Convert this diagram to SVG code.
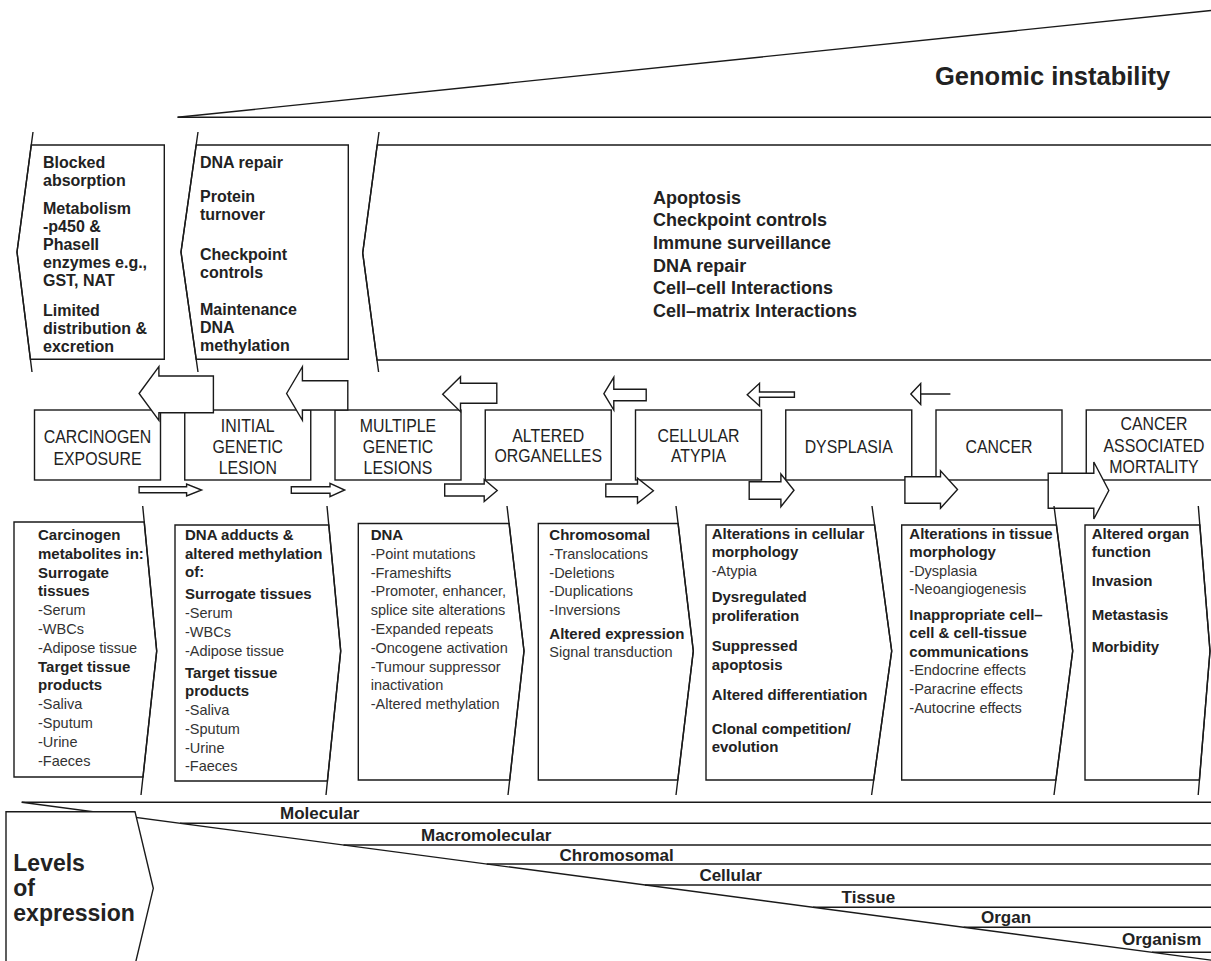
<svg xmlns="http://www.w3.org/2000/svg" width="1211" height="961" viewBox="0 0 1211 961">
<style>
.ln{fill:none;stroke:#1a1a1a;stroke-width:1.4}
.bx{fill:#fff;stroke:#1a1a1a;stroke-width:1.4}
.ar{fill:#fff;stroke:#1a1a1a;stroke-width:1.4;stroke-linejoin:miter}
text{font-family:"Liberation Sans",Arial,sans-serif;fill:#222}
.b{font-weight:bold}
.lab{font-size:19px;text-anchor:middle}
.tl{font-size:16px;font-weight:bold}
.big{font-size:18px;font-weight:bold}
.bb{font-size:15px;font-weight:bold}
.br{font-size:14.5px;fill:#333}
.lv{font-size:17px;font-weight:bold}
</style>
<rect width="1211" height="961" fill="#fff"/>

<g id="genomic-instability">
<line class="ln" x1="177.6" y1="117.3" x2="1211" y2="10.5"/>
<line class="ln" x1="177.6" y1="117.3" x2="1211" y2="117.3"/>
<text class="b" x="935" y="85" font-size="25.5">Genomic instability</text>
</g>

<g id="protect-exposure">
<polygon class="bx" points="31.3,145 164.3,145 164.3,359.3 30.4,359.3 17,252"/>
<polyline class="ln" points="33,132 17,252 32,372"/>
<text class="tl" x="43" y="167.7">Blocked</text>
<text class="tl" x="43" y="185.7">absorption</text>
<text class="tl" x="43" y="214">Metabolism</text>
<text class="tl" x="43" y="232">-p450 &amp;</text>
<text class="tl" x="43" y="250">PhaseII</text>
<text class="tl" x="43" y="268">enzymes e.g.,</text>
<text class="tl" x="43" y="286">GST, NAT</text>
<text class="tl" x="43" y="315.7">Limited</text>
<text class="tl" x="43" y="333.7">distribution &amp;</text>
<text class="tl" x="43" y="351.7">excretion</text>
</g>

<g id="protect-initial">
<polygon class="bx" points="196.2,145 348.3,145 348.3,359.3 196.2,359.3 181,252"/>
<polyline class="ln" points="198,132 181,252 198,372"/>
<text class="tl" x="200" y="167.7">DNA repair</text>
<text class="tl" x="200" y="202.3">Protein</text>
<text class="tl" x="200" y="220.3">turnover</text>
<text class="tl" x="200" y="259.7">Checkpoint</text>
<text class="tl" x="200" y="277.7">controls</text>
<text class="tl" x="200" y="315.3">Maintenance</text>
<text class="tl" x="200" y="333.3">DNA</text>
<text class="tl" x="200" y="351.3">methylation</text>
</g>

<g id="protect-progression">
<polygon class="bx" points="377.2,145 1215,145 1215,360 377,360 362.7,253"/>
<polyline class="ln" points="379,132 362.7,253 378.6,372"/>
<text class="big" x="653" y="203.5">Apoptosis</text>
<text class="big" x="653" y="226.2">Checkpoint controls</text>
<text class="big" x="653" y="248.9">Immune surveillance</text>
<text class="big" x="653" y="271.6">DNA repair</text>
<text class="big" x="653" y="294.3">Cell–cell Interactions</text>
<text class="big" x="653" y="317">Cell–matrix Interactions</text>
</g>

<g id="stage-carcinogen-exposure">
<rect class="bx" x="34.5" y="410" width="126" height="70"/>
<g transform="translate(97.5,0) scale(0.835,1)"><text class="lab" x="0" y="443.4">CARCINOGEN</text><text class="lab" x="0" y="465">EXPOSURE</text></g>
</g>
<g id="stage-initial-lesion">
<rect class="bx" x="184.75" y="410" width="126" height="70"/>
<g transform="translate(247.75,0) scale(0.835,1)"><text class="lab" x="0" y="431.7">INITIAL</text><text class="lab" x="0" y="452.7">GENETIC</text><text class="lab" x="0" y="474.3">LESION</text></g>
</g>
<g id="stage-multiple-lesions">
<rect class="bx" x="335" y="410" width="126" height="70"/>
<g transform="translate(398,0) scale(0.835,1)"><text class="lab" x="0" y="431.7">MULTIPLE</text><text class="lab" x="0" y="452.7">GENETIC</text><text class="lab" x="0" y="474.3">LESIONS</text></g>
</g>
<g id="stage-altered-organelles">
<rect class="bx" x="485.25" y="410" width="126" height="70"/>
<g transform="translate(548.25,0) scale(0.835,1)"><text class="lab" x="0" y="441.7">ALTERED</text><text class="lab" x="0" y="461.7">ORGANELLES</text></g>
</g>
<g id="stage-cellular-atypia">
<rect class="bx" x="635.5" y="410" width="126" height="70"/>
<g transform="translate(698.5,0) scale(0.835,1)"><text class="lab" x="0" y="441.7">CELLULAR</text><text class="lab" x="0" y="461.7">ATYPIA</text></g>
</g>
<g id="stage-dysplasia">
<rect class="bx" x="785.75" y="410" width="126" height="70"/>
<g transform="translate(848.75,0) scale(0.835,1)"><text class="lab" x="0" y="452.7">DYSPLASIA</text></g>
</g>
<g id="stage-cancer">
<rect class="bx" x="936" y="410" width="126" height="70"/>
<g transform="translate(999,0) scale(0.835,1)"><text class="lab" x="0" y="452.7">CANCER</text></g>
</g>
<g id="stage-mortality">
<rect class="bx" x="1086.25" y="410" width="130" height="70"/>
<g transform="translate(1154,0) scale(0.835,1)"><text class="lab" x="0" y="430">CANCER</text><text class="lab" x="0" y="451.7">ASSOCIATED</text><text class="lab" x="0" y="473.4">MORTALITY</text></g>
</g>

<g id="connectors">
<polygon class="ar" points="139.1,393.5 158.9,366.7 158.9,376 213.4,376 213.4,412.7 158.9,412.7 158.9,420.3"/>
<polygon class="ar" points="286.6,393.5 302.4,366.7 302.4,380.7 347.8,380.7 347.8,410 302.4,410 302.4,420.3"/>
<polygon class="ar" points="442.7,394.2 460.5,376.7 460.5,383.3 496.8,383.3 496.8,403.3 460.5,403.3 460.5,411.7"/>
<polygon class="ar" points="603.9,393.7 613.8,377.3 613.8,389.3 646.2,389.3 646.2,400.7 613.8,400.7 613.8,410"/>
<polygon class="ar" points="747.2,394.7 759.5,383.3 759.5,392 794.4,392 794.4,397.3 759.5,397.3 759.5,406"/>
<polygon class="ar" points="910.8,394 920.7,383.5 920.7,394 950.4,394 920.7,394 920.7,404.5"/>
<polygon class="ar" points="139.1,486.7 186.6,486.7 186.6,484 201.6,490 186.6,496 186.6,492.7 139.1,492.7"/>
<polygon class="ar" points="291.3,486.7 330,486.7 330,483.3 344.7,490 330,496.7 330,493.3 291.3,493.3"/>
<polygon class="ar" points="444.7,484 484.2,484 484.2,479.5 497.2,490.5 484.2,501.5 484.2,496 444.7,496"/>
<polygon class="ar" points="605.8,484 637.5,484 637.5,478.3 653.4,490.7 637.5,503.3 637.5,496.7 605.8,496.7"/>
<polygon class="ar" points="749.2,481.7 780.9,481.7 780.9,474 794,490.3 780.9,506.7 780.9,499.3 749.2,499.3"/>
<polygon class="ar" points="904.9,476.7 940.5,476.7 940.5,470.7 957.5,489.5 940.5,508.3 940.5,503.3 904.9,503.3"/>
<polygon class="ar" points="1048.2,473.3 1093.8,473.3 1093.8,462 1108.8,490.5 1093.8,519 1093.8,508.3 1048.2,508.3"/>
</g>

<g id="marker-metabolites">
<polygon class="bx" points="14,522 144.2,522 156.7,651 143,777 14,777"/>
<polyline class="ln" points="142.7,506 156.7,651 141,795"/>
<text class="bb" x="38" y="540">Carcinogen</text>
<text class="bb" x="38" y="558.8">metabolites in:</text>
<text class="bb" x="38" y="577.6">Surrogate</text>
<text class="bb" x="38" y="596.4">tissues</text>
<text class="br" x="38" y="615.2">-Serum</text>
<text class="br" x="38" y="634">-WBCs</text>
<text class="br" x="38" y="652.8">-Adipose tissue</text>
<text class="bb" x="38" y="671.6">Target tissue</text>
<text class="bb" x="38" y="690.4">products</text>
<text class="br" x="38" y="709.2">-Saliva</text>
<text class="br" x="38" y="728">-Sputum</text>
<text class="br" x="38" y="746.8">-Urine</text>
<text class="br" x="38" y="765.6">-Faeces</text>
</g>

<g id="marker-adducts">
<polygon class="bx" points="175,525 328.8,525 340.7,651 327.4,781 175,781"/>
<polyline class="ln" points="327,506 340.7,651 326,795"/>
<text class="bb" x="185" y="540">DNA adducts &amp;</text>
<text class="bb" x="185" y="558.5">altered methylation</text>
<text class="bb" x="185" y="577">of:</text>
<text class="bb" x="185" y="599">Surrogate tissues</text>
<text class="br" x="185" y="618">-Serum</text>
<text class="br" x="185" y="637">-WBCs</text>
<text class="br" x="185" y="656">-Adipose tissue</text>
<text class="bb" x="185" y="677.5">Target tissue</text>
<text class="bb" x="185" y="696">products</text>
<text class="br" x="185" y="715">-Saliva</text>
<text class="br" x="185" y="734">-Sputum</text>
<text class="br" x="185" y="752.5">-Urine</text>
<text class="br" x="185" y="771">-Faeces</text>
</g>

<g id="marker-dna">
<polygon class="bx" points="358.3,523.5 509.1,523.5 524,651 509.7,780 358.3,780"/>
<polyline class="ln" points="507,506 524,651 508,795"/>
<text class="bb" x="370.7" y="540">DNA</text>
<text class="br" x="370.7" y="558.8">-Point mutations</text>
<text class="br" x="370.7" y="577.6">-Frameshifts</text>
<text class="br" x="370.7" y="596.4">-Promoter, enhancer,</text>
<text class="br" x="370.7" y="615.2">splice site alterations</text>
<text class="br" x="370.7" y="634">-Expanded repeats</text>
<text class="br" x="370.7" y="652.8">-Oncogene activation</text>
<text class="br" x="370.7" y="671.6">-Tumour suppressor</text>
<text class="br" x="370.7" y="690.4">inactivation</text>
<text class="br" x="370.7" y="709.2">-Altered methylation</text>
</g>

<g id="marker-chromosomal">
<polygon class="bx" points="538.3,523.5 678.1,523.5 693.3,651 677.8,780 538.3,780"/>
<polyline class="ln" points="676,506 693.3,651 676,795"/>
<text class="bb" x="549.3" y="540">Chromosomal</text>
<text class="br" x="549.3" y="558.8">-Translocations</text>
<text class="br" x="549.3" y="577.6">-Deletions</text>
<text class="br" x="549.3" y="596.4">-Duplications</text>
<text class="br" x="549.3" y="615.2">-Inversions</text>
<text class="bb" x="549.3" y="638.5">Altered expression</text>
<text class="br" x="549.3" y="657">Signal transduction</text>
</g>

<g id="marker-cellular">
<polygon class="bx" points="706,525 874.6,525 891.7,651 873.7,780 706,780"/>
<polyline class="ln" points="872,506 891.7,651 871.6,795"/>
<text class="bb" x="711.7" y="539">Alterations in cellular</text>
<text class="bb" x="711.7" y="557">morphology</text>
<text class="br" x="711.7" y="575.5">-Atypia</text>
<text class="bb" x="711.7" y="602">Dysregulated</text>
<text class="bb" x="711.7" y="620.5">proliferation</text>
<text class="bb" x="711.7" y="651">Suppressed</text>
<text class="bb" x="711.7" y="669.5">apoptosis</text>
<text class="bb" x="711.7" y="699.5">Altered differentiation</text>
<text class="bb" x="711.7" y="733.5">Clonal competition/</text>
<text class="bb" x="711.7" y="752">evolution</text>
</g>

<g id="marker-tissue">
<polygon class="bx" points="901.7,525 1056.4,525 1072.7,651 1055.9,780 901.7,780"/>
<polyline class="ln" points="1054,506 1072.7,651 1054,795"/>
<text class="bb" x="909.3" y="538.5">Alterations in tissue</text>
<text class="bb" x="909.3" y="557">morphology</text>
<text class="br" x="909.3" y="575.5">-Dysplasia</text>
<text class="br" x="909.3" y="594">-Neoangiogenesis</text>
<text class="bb" x="909.3" y="619.5">Inappropriate cell–</text>
<text class="bb" x="909.3" y="638">cell &amp; cell-tissue</text>
<text class="bb" x="909.3" y="656.5">communications</text>
<text class="br" x="909.3" y="675">-Endocrine effects</text>
<text class="br" x="909.3" y="693.5">-Paracrine effects</text>
<text class="br" x="909.3" y="712.5">-Autocrine effects</text>
</g>

<g id="marker-organ">
<polygon class="bx" points="1085,525 1199.8,525 1210,651 1199.4,780 1085,780"/>
<polyline class="ln" points="1198.3,506 1210,651 1198.2,795"/>
<text class="bb" x="1091.7" y="538.5">Altered organ</text>
<text class="bb" x="1091.7" y="557">function</text>
<text class="bb" x="1091.7" y="586">Invasion</text>
<text class="bb" x="1091.7" y="619.5">Metastasis</text>
<text class="bb" x="1091.7" y="651.5">Morbidity</text>
</g>

<g id="levels-of-expression">
<line class="ln" x1="21.7" y1="802.3" x2="1211" y2="802.3"/>
<line class="ln" x1="21.7" y1="802.3" x2="1211" y2="960.1"/>
<line class="ln" x1="180" y1="823.3" x2="1211" y2="823.3"/>
<line class="ln" x1="343.5" y1="845" x2="1211" y2="845"/>
<line class="ln" x1="486.7" y1="864" x2="1211" y2="864"/>
<line class="ln" x1="644.9" y1="885" x2="1211" y2="885"/>
<line class="ln" x1="813" y1="907.3" x2="1211" y2="907.3"/>
<line class="ln" x1="963.7" y1="927.3" x2="1211" y2="927.3"/>
<line class="ln" x1="1152" y1="952.3" x2="1211" y2="952.3"/>
<text class="lv" x="280" y="819.3">Molecular</text>
<text class="lv" x="421" y="840.7">Macromolecular</text>
<text class="lv" x="559.5" y="860.5">Chromosomal</text>
<text class="lv" x="699.4" y="880.7">Cellular</text>
<text class="lv" x="841.6" y="902.7">Tissue</text>
<text class="lv" x="981" y="923.3">Organ</text>
<text class="lv" x="1122" y="945">Organism</text>
<polygon class="bx" points="6,811.7 135,811.7 153.3,888.3 135,965 6,965"/>
<text class="b" x="13.3" y="871" font-size="23">Levels</text>
<text class="b" x="13.3" y="896" font-size="23">of</text>
<text class="b" x="13.3" y="921" font-size="23">expression</text>
</g>
</svg>
